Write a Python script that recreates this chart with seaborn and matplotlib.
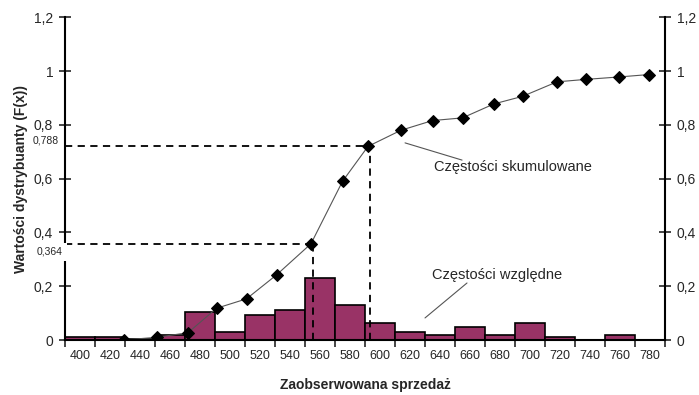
import numpy as np
import pandas as pd
import matplotlib
matplotlib.use('Agg')
import matplotlib.pyplot as plt
import seaborn as sns

# relative frequencies per class (histogram)
classes = [400, 420, 440, 460, 480, 500, 520, 540, 560, 580,
           600, 620, 640, 660, 680, 700, 720, 740, 760, 780]
rel_freq = [0.01, 0.01, 0.005, 0.02, 0.103, 0.03, 0.093, 0.113, 0.23, 0.13,
            0.065, 0.029, 0.019, 0.05, 0.019, 0.062, 0.012, 0.0, 0.019, 0.0]

# cumulative frequencies (empirical CDF)
cum_x = [429, 451, 472, 491, 511, 531, 554, 575, 592, 614,
         635, 655, 676, 695, 718, 737, 759, 779]
cum_y = [0.0, 0.01, 0.027, 0.118, 0.153, 0.242, 0.358, 0.59, 0.72, 0.78,
         0.816, 0.826, 0.878, 0.906, 0.96, 0.969, 0.978, 0.987]

y_ticks = [0, 0.2, 0.4, 0.6, 0.8, 1.0, 1.2]
y_labels = ['0', '0,2', '0,4', '0,6', '0,8', '1', '1,2']

sns.set_style('white')
plt.rcParams['font.family'] = ['Liberation Sans', 'DejaVu Sans']

fig = plt.figure(figsize=(6.99, 3.95), dpi=100)
ax = fig.add_axes([65/699, 55/395, 600/699, 322.7/395])

hist_df = pd.DataFrame({'klasa': classes, 'freq': rel_freq})
sns.barplot(data=hist_df, x='klasa', y='freq', native_scale=True, width=1,
            color='#993366', saturation=1, edgecolor='black', linewidth=1.2, ax=ax)

cum_df = pd.DataFrame({'x': cum_x, 'F': cum_y})
sns.lineplot(data=cum_df, x='x', y='F', color='#555555', lw=0.8,
             marker='D', markersize=6, markerfacecolor='black',
             markeredgecolor='black', ax=ax)

# quantile guide lines
dash = dict(color='black', lw=1.3, ls=(0, (4, 3)))
ax.plot([390, 554], [0.358, 0.358], **dash)
ax.plot([555, 555], [0, 0.358], **dash)
ax.plot([390, 593], [0.72, 0.72], **dash)
ax.plot([593, 593], [0, 0.72], **dash)
ax.text(388.5, 0.347, '0,364', ha='right', va='top', fontsize=7.5, zorder=5,
        bbox=dict(facecolor='white', edgecolor='none', pad=3))
ax.text(386, 0.725, '0,788', ha='right', va='bottom', fontsize=7.5)

# annotations with leader lines
ax.plot([616.7, 654.7], [0.733, 0.669], color='#555555', lw=0.8)
ax.text(688.7, 0.643, 'Częstości skumulowane', ha='center', va='center', fontsize=10.5)
ax.plot([658, 630], [0.212, 0.082], color='#555555', lw=0.8)
ax.text(678, 0.242, 'Częstości względne', ha='center', va='center', fontsize=10.5)

ax.set_xlim(390, 790)
ax.set_ylim(0, 1.2)
ax.set_xticks(classes)
ax.set_xticklabels([str(c) for c in classes], fontsize=9)
ax.set_xticks(np.arange(390, 791, 20), minor=True)
ax.tick_params(axis='x', which='major', length=0, pad=7)
ax.tick_params(axis='x', which='minor', length=5, width=1.2, direction='out',
               bottom=True)
ax.set_yticks(y_ticks)
ax.set_yticklabels(y_labels, fontsize=10)
ax.tick_params(axis='y', direction='inout', length=9, width=1.2,
               left=True, right=True, labelleft=True, labelright=True, pad=4)

for s in ['left', 'right', 'bottom']:
    ax.spines[s].set_color('black')
    ax.spines[s].set_linewidth(1.5)
ax.spines['top'].set_visible(False)

ax.set_xlabel('Zaobserwowana sprzedaż', fontsize=10, fontweight='bold', labelpad=12)
ax.set_ylabel('Wartości dystrybuanty (F(x))', fontsize=10, fontweight='bold', labelpad=4)

fig.savefig('out.png', dpi=100)
